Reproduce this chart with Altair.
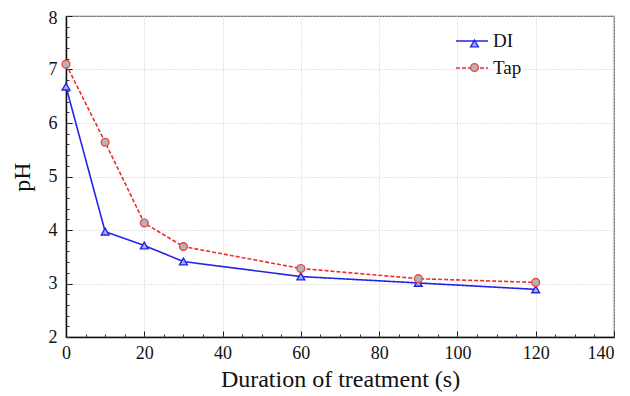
import altair as alt
import pandas as pd

time_s = [0, 10, 20, 30, 60, 90, 120]
di_ph = [6.68, 3.97, 3.71, 3.41, 3.13, 3.01, 2.89]
tap_ph = [7.10, 5.64, 4.13, 3.69, 3.28, 3.09, 3.02]
series_names = ["DI", "Tap"]
marker_names = ["DI marker", "Tap marker"]
x_major = [0, 20, 40, 60, 80, 100, 120, 140]
x_minor = list(range(0, 141, 5))
y_major = [2, 3, 4, 5, 6, 7, 8]
y_minor = [round(2 + 0.2 * i, 1) for i in range(31)]

df = pd.DataFrame({
    "t": time_s * 2,
    "pH": di_ph + tap_ph,
    "series": ["DI"] * len(time_s) + ["Tap"] * len(time_s),
})
df["marker"] = df["series"] + " marker"

W, H = 548, 321
FONT = "Liberation Serif"
xs = alt.Scale(domain=[0, 140], nice=False)
ys = alt.Scale(domain=[2, 8], nice=False)
line_colors = ["#2424e6", "#e83030"]

line_legend = alt.Legend(title=None, orient="none", legendX=389, legendY=8,
                         symbolType="stroke", symbolSize=1024, symbolStrokeWidth=1.5,
                         labelFont=FONT, labelFontSize=19, labelColor="#111",
                         rowPadding=-7.5, labelOffset=4)
marker_legend = alt.Legend(title=None, orient="none", legendX=399, legendY=18,
                           symbolSize=60, symbolStrokeWidth=1.4, labelExpr="''",
                           labelFont=FONT, labelFontSize=19,
                           rowPadding=4, labelOffset=0)

base = alt.Chart(df)

axis_style = dict(ticks=False, grid=True, gridDash=[1, 2], gridColor="#c8c8c8",
                  domainColor="#111", domainWidth=1.5, labelFont=FONT, labelFontSize=18,
                  labelColor="#111", labelFlush=False, titleFont=FONT, titleFontSize=24,
                  titleFontWeight="normal", titleColor="#111")

lines = base.mark_line(strokeWidth=1.6).encode(
    x=alt.X("t:Q", scale=xs, axis=alt.Axis(
        values=x_major, labelPadding=7,
        labelAlign=alt.condition("datum.value == 140", alt.value("right"), alt.value("center")),
        title="Duration of treatment (s)", titlePadding=5, **axis_style)),
    y=alt.Y("pH:Q", scale=ys, axis=alt.Axis(
        values=y_major, labelPadding=9,
        labelOffset=alt.condition("datum.value == 8", alt.value(2), alt.value(0)),
        title="pH", titlePadding=14, **axis_style)),
    color=alt.Color("series:N", scale=alt.Scale(domain=series_names, range=line_colors),
                    legend=line_legend),
    strokeDash=alt.StrokeDash("series:N",
                              scale=alt.Scale(domain=series_names, range=[[1, 0], [4, 2]]),
                              legend=line_legend),
)

points = base.mark_point(size=60, strokeWidth=1.4, opacity=1).encode(
    x=alt.X("t:Q", scale=xs, axis=alt.Axis(
        orient="top", offset=-H, values=x_major, tickSize=6, tickColor="#111",
        labels=False, domain=False, grid=False, title=None)),
    y=alt.Y("pH:Q", scale=ys, axis=alt.Axis(
        orient="right", offset=-W, values=y_major, tickSize=6, tickColor="#111",
        labels=False, domain=False, grid=False, title=None)),
    shape=alt.Shape("marker:N", scale=alt.Scale(domain=marker_names, range=["triangle-up", "circle"]),
                    legend=marker_legend),
    fill=alt.Fill("marker:N", scale=alt.Scale(domain=marker_names, range=["#a8aef0", "#b4b4b4"]),
                  legend=marker_legend),
    stroke=alt.Stroke("marker:N", scale=alt.Scale(domain=marker_names, range=["#2424e6", "#e84848"]),
                      legend=marker_legend),
)

minor = alt.Chart(df).mark_point(opacity=0).encode(
    x=alt.X("t:Q", scale=xs, axis=alt.Axis(
        orient="top", offset=-H, values=x_minor, tickSize=3, tickColor="#333",
        labels=False, domain=False, grid=False, title=None)),
    y=alt.Y("pH:Q", scale=ys, axis=alt.Axis(
        orient="right", offset=-W, values=y_minor, tickSize=3, tickColor="#333",
        labels=False, domain=False, grid=False, title=None)),
)

chart = alt.layer(lines, points, minor).resolve_axis(
    x="independent", y="independent"
).properties(
    width=W, height=H,
    autosize=alt.AutoSizeParams(type="none"),
    padding={"left": 58, "top": 8, "right": 8, "bottom": 55},
).configure_view(stroke="#666", strokeWidth=1.2)

chart.save("out.html", embed_options={"renderer": "svg", "actions": False})
